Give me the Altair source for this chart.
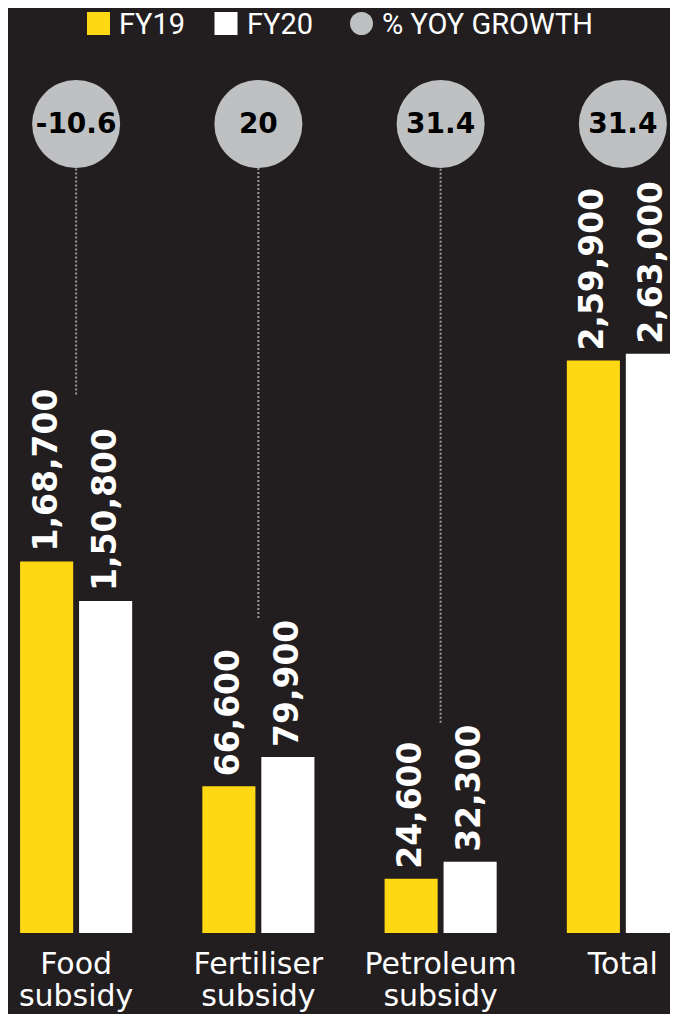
import altair as alt
import pandas as pd

# ---- data ----
categories = ["Food subsidy", "Fertiliser subsidy", "Petroleum subsidy", "Total"]
series = ["FY19", "FY20"]
fy19 = [168700, 66600, 24600, 259900]
fy20 = [150800, 79900, 32300, 263000]
growth = ["-10.6", "20", "31.4", "31.4"]
legend_labels = ["FY19", "FY20", "% YOY GROWTH"]


def indian(n):
    s = str(n)
    if len(s) <= 3:
        return s
    last3, rest = s[-3:], s[:-3]
    parts = []
    while len(rest) > 2:
        parts.insert(0, rest[-2:])
        rest = rest[:-2]
    if rest:
        parts.insert(0, rest)
    return ",".join(parts + [last3])


rows = []
for c, a, b in zip(categories, fy19, fy20):
    rows.append({"category": c, "series": "FY19", "value": a, "label": indian(a)})
    rows.append({"category": c, "series": "FY20", "value": b, "label": indian(b)})
bars_df = pd.DataFrame(rows)

g_rows = []
for c, a, b, g in zip(categories, fy19, fy20, growth):
    top = max(a, b)
    g_rows.append({"category": c, "growth": g, "top": top, "toplabel": indian(top)})
growth_df = pd.DataFrame(g_rows)

# ---- styling ----
BG = "#221e1f"
YELLOW = "#fdd813"
WHITE = "#ffffff"
GREY = "#bfc0c2"
FONT = "DejaVu Sans"

xscale = alt.Scale(domain=categories, range=[-23, 706], paddingInner=0.385, paddingOuter=0.1925)
yscale = alt.Scale(domain=[0, 420000], nice=False, zero=True)

X = alt.X("category:N", scale=xscale, sort=categories, axis=None)
XO = alt.XOffset("series:N", scale=alt.Scale(domain=series, paddingInner=0.1, paddingOuter=0))
Y = alt.Y("value:Q", scale=yscale, axis=None)

base = alt.Chart(bars_df)

bars = base.mark_bar().encode(
    x=X,
    xOffset=XO,
    y=Y,
    color=alt.Color("series:N", scale=alt.Scale(domain=series, range=[YELLOW, WHITE]), legend=None),
)

value_labels = base.mark_text(
    angle=270, align="left", baseline="middle", dx=10,
    font=FONT, fontWeight="bold", fontSize=33, color=WHITE,
).encode(x=X, xOffset=XO, y=Y, text="label:N")

cat_labels = alt.Chart(pd.DataFrame({"category": categories})).mark_text(
    font=FONT, fontSize=30, color=WHITE, lineBreak=" ", lineHeight=32,
    baseline="alphabetic", align="center",
).encode(x=X, y=alt.value(966), text="category:N")

gbase = alt.Chart(growth_df)

rules = gbase.transform_filter(alt.datum.category != "Total").mark_rule(
    color="#9a9a9c", strokeWidth=2, strokeDash=[2, 2],
    yOffset=alt.expr("-(55 + 14 * length(datum.toplabel))"),
).encode(x=X, y=alt.Y("top:Q", scale=yscale, axis=None), y2=alt.value(158))

circles = gbase.mark_circle(size=7744, color=GREY, opacity=1).encode(x=X, y=alt.value(116))

circle_text = gbase.mark_text(
    font=FONT, fontWeight="bold", fontSize=28, color="#000000", baseline="middle", align="center",
).encode(x=X, y=alt.value(117), text="growth:N")

# ---- legend drawn as marks ----
legend_shapes = ["square", "square", "circle"]
legend_colors = [YELLOW, WHITE, GREY]
legend_sizes = [529, 529, 529]
legend_sym_x = [90.5, 218, 353.5]
legend_txt_x = [111, 239, 374]
legend_layers = []
for lab, shp, col, sz, sx, tx in zip(legend_labels, legend_shapes, legend_colors,
                                     legend_sizes, legend_sym_x, legend_txt_x):
    d = alt.Chart(pd.DataFrame({"label": [lab]}))
    legend_layers.append(
        d.mark_point(shape=shp, filled=True, opacity=1, size=sz, color=col)
        .encode(x=alt.value(sx), y=alt.value(15.5))
    )
    legend_layers.append(
        d.mark_text(font="Roboto", fontSize=29, color=WHITE, align="left", baseline="alphabetic")
        .encode(x=alt.value(tx), y=alt.value(26), text="label:N")
    )

chart = alt.layer(
    rules, circles, circle_text, bars, value_labels, cat_labels, *legend_layers
).properties(
    width=662,
    height=925,
    padding={"left": 0, "right": 0, "top": 0, "bottom": 81},
    autosize=alt.AutoSizeParams(type="none"),
    background=BG,
).configure_view(strokeWidth=0)

chart.save("out.html", embed_options={"renderer": "svg", "actions": False})
